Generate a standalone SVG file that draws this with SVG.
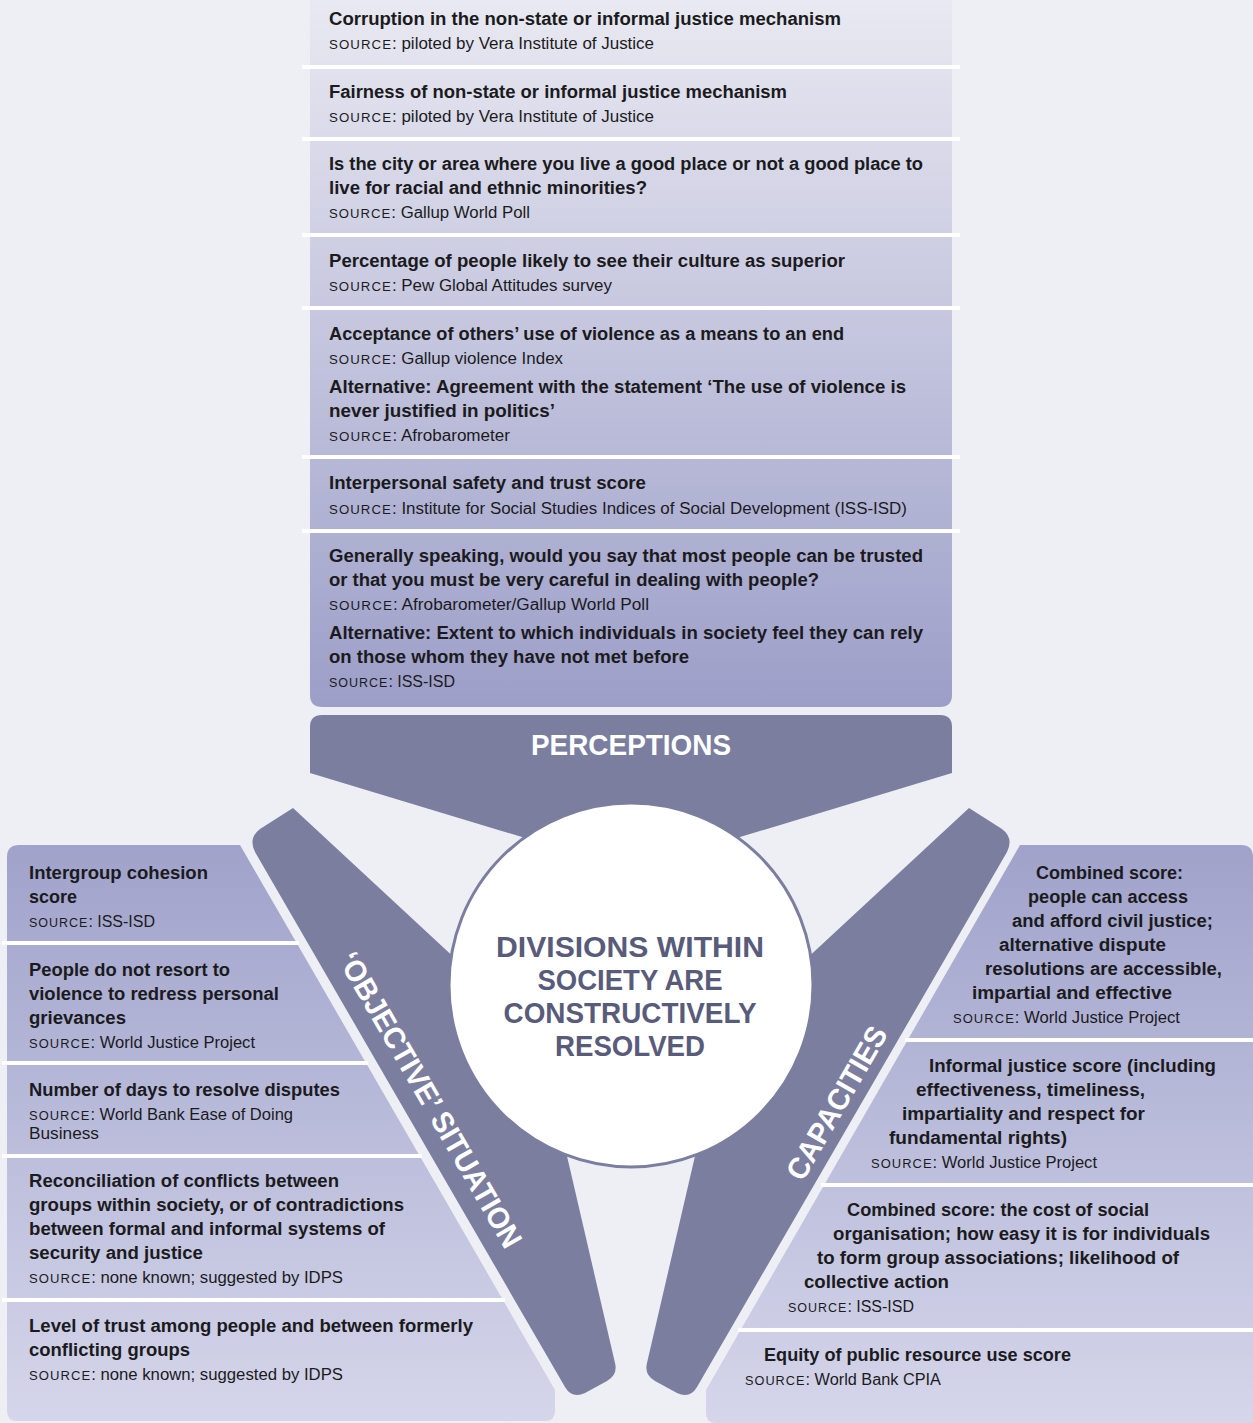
<svg xmlns="http://www.w3.org/2000/svg" width="1253" height="1423" viewBox="0 0 1253 1423">
<style>
text{font-family:"Liberation Sans",Arial,sans-serif;fill:#1b1b1d}
.b{font-weight:bold;font-size:18px}
.s{font-size:16px}
.sc{font-size:12.5px;letter-spacing:1px}
.sep{stroke:#ffffff;stroke-width:4}
.arm{fill:#7b7e9f}
.lab{font-weight:bold;fill:#ffffff;font-size:30px}
.ctr{font-weight:bold;fill:#595b7a;font-size:29px}
</style>
<defs>
<linearGradient id="gTop" x1="0" y1="0" x2="0" y2="707" gradientUnits="userSpaceOnUse">
<stop offset="0" stop-color="#e9e9f2"/>
<stop offset="1" stop-color="#9c9ec8"/>
</linearGradient>
<linearGradient id="gSide" x1="0" y1="845" x2="0" y2="1421" gradientUnits="userSpaceOnUse">
<stop offset="0" stop-color="#a0a2cb"/>
<stop offset="1" stop-color="#d5d6ea"/>
</linearGradient>
<path id="armL" d="M293,808 L500,1000 L554,1100 L615,1363 Q618,1375 607,1381 L585,1393 Q572,1399 565,1387 L255,852 Q248,838 260,829 Z"/>
</defs>
<rect width="1253" height="1423" fill="#eeeff5"/>

<!-- panels -->
<g id="panels">
<path d="M310,0 L952,0 L952,695 Q952,707 940,707 L322,707 Q310,707 310,695 Z" fill="url(#gTop)"/>
<path d="M7,857 Q7,845 19,845 L240,845 L555,1390 L555,1411 Q555,1421 545,1421 L17,1421 Q7,1421 7,1411 Z" fill="url(#gSide)"/>
<path d="M1020,845 L1241,845 Q1253,845 1253,857 L1253,1423 L716,1423 Q706,1423 706,1413 L706,1390 Z" fill="url(#gSide)"/>
</g>
<g id="separators">
<line class="sep" x1="302" y1="67" x2="960" y2="67"/>
<line class="sep" x1="302" y1="139" x2="960" y2="139"/>
<line class="sep" x1="302" y1="235" x2="960" y2="235"/>
<line class="sep" x1="302" y1="308" x2="960" y2="308"/>
<line class="sep" x1="302" y1="457" x2="960" y2="457"/>
<line class="sep" x1="302" y1="531" x2="960" y2="531"/>
<line class="sep" x1="2" y1="943" x2="299" y2="943"/>
<line class="sep" x1="2" y1="1063" x2="368" y2="1063"/>
<line class="sep" x1="2" y1="1156" x2="422" y2="1156"/>
<line class="sep" x1="2" y1="1300" x2="505" y2="1300"/>
<line class="sep" x1="905" y1="1040" x2="1253" y2="1040"/>
<line class="sep" x1="821" y1="1185" x2="1253" y2="1185"/>
<line class="sep" x1="738" y1="1330" x2="1253" y2="1330"/>
</g>

<!-- hub shapes -->
<g id="perceptions">
<path class="arm" d="M310,773 L310,727 Q310,715 322,715 L940,715 Q952,715 952,727 L952,773 L631,870 Z"/>
<text class="lab" x="631" y="755" text-anchor="middle" textLength="200" lengthAdjust="spacingAndGlyphs">PERCEPTIONS</text>
</g>
<g id="objective-situation">
<use href="#armL" class="arm"/>
<text class="lab" font-size="28" transform="translate(430,1100) rotate(60)" x="0" y="10" text-anchor="middle" textLength="336" lengthAdjust="spacingAndGlyphs">‘OBJECTIVE’ SITUATION</text>
</g>
<g id="capacities">
<use href="#armL" class="arm" transform="matrix(-1 0 0 1 1262 0)"/>
<text class="lab" font-size="28" transform="translate(837,1103) rotate(-60)" x="0" y="10" text-anchor="middle" textLength="172" lengthAdjust="spacingAndGlyphs">CAPACITIES</text>
</g>
<g id="centre">
<circle cx="631" cy="985" r="182" fill="#ffffff" stroke="#7b7e9f" stroke-width="3"/>
<text class="ctr" x="630" y="957" text-anchor="middle" textLength="268" lengthAdjust="spacingAndGlyphs">DIVISIONS WITHIN</text>
<text class="ctr" x="630" y="990" text-anchor="middle" textLength="185" lengthAdjust="spacingAndGlyphs">SOCIETY ARE</text>
<text class="ctr" x="630" y="1023" text-anchor="middle" textLength="253" lengthAdjust="spacingAndGlyphs">CONSTRUCTIVELY</text>
<text class="ctr" x="630" y="1056" text-anchor="middle" textLength="150" lengthAdjust="spacingAndGlyphs">RESOLVED</text>
</g>

<!-- top panel rows -->
<g id="p1">
<text class="b" x="329" y="25" textLength="512" lengthAdjust="spacingAndGlyphs">Corruption in the non-state or informal justice mechanism</text>
<text class="s" x="329" y="49" textLength="325" lengthAdjust="spacingAndGlyphs"><tspan class="sc">SOURCE</tspan>: piloted by Vera Institute of Justice</text>
</g>
<g id="p2">
<text class="b" x="329" y="98" textLength="458" lengthAdjust="spacingAndGlyphs">Fairness of non-state or informal justice mechanism</text>
<text class="s" x="329" y="122" textLength="325" lengthAdjust="spacingAndGlyphs"><tspan class="sc">SOURCE</tspan>: piloted by Vera Institute of Justice</text>
</g>
<g id="p3">
<text class="b" x="329" y="170" textLength="594" lengthAdjust="spacingAndGlyphs">Is the city or area where you live a good place or not a good place to</text>
<text class="b" x="329" y="194" textLength="318" lengthAdjust="spacingAndGlyphs">live for racial and ethnic minorities?</text>
<text class="s" x="329" y="218" textLength="201" lengthAdjust="spacingAndGlyphs"><tspan class="sc">SOURCE</tspan>: Gallup World Poll</text>
</g>
<g id="p4">
<text class="b" x="329" y="267" textLength="516" lengthAdjust="spacingAndGlyphs">Percentage of people likely to see their culture as superior</text>
<text class="s" x="329" y="291" textLength="283" lengthAdjust="spacingAndGlyphs"><tspan class="sc">SOURCE</tspan>: Pew Global Attitudes survey</text>
</g>
<g id="p5">
<text class="b" x="329" y="340" textLength="515" lengthAdjust="spacingAndGlyphs">Acceptance of others’ use of violence as a means to an end</text>
<text class="s" x="329" y="364" textLength="234" lengthAdjust="spacingAndGlyphs"><tspan class="sc">SOURCE</tspan>: Gallup violence Index</text>
<text class="b" x="329" y="393" textLength="577" lengthAdjust="spacingAndGlyphs">Alternative: Agreement with the statement ‘The use of violence is</text>
<text class="b" x="329" y="417" textLength="226" lengthAdjust="spacingAndGlyphs">never justified in politics’</text>
<text class="s" x="329" y="441" textLength="181" lengthAdjust="spacingAndGlyphs"><tspan class="sc">SOURCE</tspan>: Afrobarometer</text>
</g>
<g id="p6">
<text class="b" x="329" y="489" textLength="317" lengthAdjust="spacingAndGlyphs">Interpersonal safety and trust score</text>
<text class="s" x="329" y="514" textLength="578" lengthAdjust="spacingAndGlyphs"><tspan class="sc">SOURCE</tspan>: Institute for Social Studies Indices of Social Development (ISS-ISD)</text>
</g>
<g id="p7">
<text class="b" x="329" y="562" textLength="594" lengthAdjust="spacingAndGlyphs">Generally speaking, would you say that most people can be trusted</text>
<text class="b" x="329" y="586" textLength="490" lengthAdjust="spacingAndGlyphs">or that you must be very careful in dealing with people?</text>
<text class="s" x="329" y="610" textLength="320" lengthAdjust="spacingAndGlyphs"><tspan class="sc">SOURCE</tspan>: Afrobarometer/Gallup World Poll</text>
<text class="b" x="329" y="639" textLength="594" lengthAdjust="spacingAndGlyphs">Alternative: Extent to which individuals in society feel they can rely</text>
<text class="b" x="329" y="663" textLength="360" lengthAdjust="spacingAndGlyphs">on those whom they have not met before</text>
<text class="s" x="329" y="687" textLength="126" lengthAdjust="spacingAndGlyphs"><tspan class="sc">SOURCE</tspan>: ISS-ISD</text>
</g>

<!-- left panel rows -->
<g id="o1">
<text class="b" x="29" y="879" textLength="179" lengthAdjust="spacingAndGlyphs">Intergroup cohesion</text>
<text class="b" x="29" y="903" textLength="48" lengthAdjust="spacingAndGlyphs">score</text>
<text class="s" x="29" y="927" textLength="126" lengthAdjust="spacingAndGlyphs"><tspan class="sc">SOURCE</tspan>: ISS-ISD</text>
</g>
<g id="o2">
<text class="b" x="29" y="976" textLength="201" lengthAdjust="spacingAndGlyphs">People do not resort to</text>
<text class="b" x="29" y="1000" textLength="250" lengthAdjust="spacingAndGlyphs">violence to redress personal</text>
<text class="b" x="29" y="1024" textLength="97" lengthAdjust="spacingAndGlyphs">grievances</text>
<text class="s" x="29" y="1048" textLength="226" lengthAdjust="spacingAndGlyphs"><tspan class="sc">SOURCE</tspan>: World Justice Project</text>
</g>
<g id="o3">
<text class="b" x="29" y="1096" textLength="311" lengthAdjust="spacingAndGlyphs">Number of days to resolve disputes</text>
<text class="s" x="29" y="1120" textLength="264" lengthAdjust="spacingAndGlyphs"><tspan class="sc">SOURCE</tspan>: World Bank Ease of Doing</text>
<text class="s" x="29" y="1139" textLength="70" lengthAdjust="spacingAndGlyphs">Business</text>
</g>
<g id="o4">
<text class="b" x="29" y="1187" textLength="310" lengthAdjust="spacingAndGlyphs">Reconciliation of conflicts between</text>
<text class="b" x="29" y="1211" textLength="375" lengthAdjust="spacingAndGlyphs">groups within society, or of contradictions</text>
<text class="b" x="29" y="1235" textLength="356" lengthAdjust="spacingAndGlyphs">between formal and informal systems of</text>
<text class="b" x="29" y="1259" textLength="174" lengthAdjust="spacingAndGlyphs">security and justice</text>
<text class="s" x="29" y="1283" textLength="314" lengthAdjust="spacingAndGlyphs"><tspan class="sc">SOURCE</tspan>: none known; suggested by IDPS</text>
</g>
<g id="o5">
<text class="b" x="29" y="1332" textLength="444" lengthAdjust="spacingAndGlyphs">Level of trust among people and between formerly</text>
<text class="b" x="29" y="1356" textLength="161" lengthAdjust="spacingAndGlyphs">conflicting groups</text>
<text class="s" x="29" y="1380" textLength="314" lengthAdjust="spacingAndGlyphs"><tspan class="sc">SOURCE</tspan>: none known; suggested by IDPS</text>
</g>

<!-- right panel rows -->
<g id="c1">
<text class="b" x="1036" y="879" textLength="147" lengthAdjust="spacingAndGlyphs">Combined score:</text>
<text class="b" x="1028" y="903" textLength="160" lengthAdjust="spacingAndGlyphs">people can access</text>
<text class="b" x="1012" y="927" textLength="201" lengthAdjust="spacingAndGlyphs">and afford civil justice;</text>
<text class="b" x="999" y="951" textLength="167" lengthAdjust="spacingAndGlyphs">alternative dispute</text>
<text class="b" x="985" y="975" textLength="237" lengthAdjust="spacingAndGlyphs">resolutions are accessible,</text>
<text class="b" x="972" y="999" textLength="200" lengthAdjust="spacingAndGlyphs">impartial and effective</text>
<text class="s" x="953" y="1023" textLength="227" lengthAdjust="spacingAndGlyphs"><tspan class="sc">SOURCE</tspan>: World Justice Project</text>
</g>
<g id="c2">
<text class="b" x="929" y="1072" textLength="287" lengthAdjust="spacingAndGlyphs">Informal justice score (including</text>
<text class="b" x="916" y="1096" textLength="229" lengthAdjust="spacingAndGlyphs">effectiveness, timeliness,</text>
<text class="b" x="902" y="1120" textLength="243" lengthAdjust="spacingAndGlyphs">impartiality and respect for</text>
<text class="b" x="889" y="1144" textLength="178" lengthAdjust="spacingAndGlyphs">fundamental rights)</text>
<text class="s" x="871" y="1168" textLength="226" lengthAdjust="spacingAndGlyphs"><tspan class="sc">SOURCE</tspan>: World Justice Project</text>
</g>
<g id="c3">
<text class="b" x="847" y="1216" textLength="302" lengthAdjust="spacingAndGlyphs">Combined score: the cost of social</text>
<text class="b" x="833" y="1240" textLength="377" lengthAdjust="spacingAndGlyphs">organisation; how easy it is for individuals</text>
<text class="b" x="817" y="1264" textLength="362" lengthAdjust="spacingAndGlyphs">to form group associations; likelihood of</text>
<text class="b" x="804" y="1288" textLength="145" lengthAdjust="spacingAndGlyphs">collective action</text>
<text class="s" x="788" y="1312" textLength="126" lengthAdjust="spacingAndGlyphs"><tspan class="sc">SOURCE</tspan>: ISS-ISD</text>
</g>
<g id="c4">
<text class="b" x="764" y="1361" textLength="307" lengthAdjust="spacingAndGlyphs">Equity of public resource use score</text>
<text class="s" x="745" y="1385" textLength="196" lengthAdjust="spacingAndGlyphs"><tspan class="sc">SOURCE</tspan>: World Bank CPIA</text>
</g>
</svg>
